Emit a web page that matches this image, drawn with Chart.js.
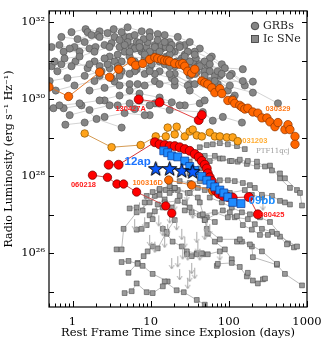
<!DOCTYPE html>
<html><head><meta charset="utf-8">
<script src="https://cdn.jsdelivr.net/npm/chart.js@4/dist/chart.umd.min.js"></script>
<style>html,body{margin:0;padding:0;background:#fff}</style>
</head><body>
<canvas id="c" width="330" height="354" style="width:330px;height:354px;display:block"></canvas>
<script>
// ---------------- DATA ----------------
const xTickValues = [1, 10, 100, 1000];
const yTickValues = [1e26, 1e28, 1e30, 1e32];

// GRB radio light curves (gray circles): [days, erg/s/Hz]
const grbCurves = [
 [[0.54,2.3e31],[0.68,2.6e31],[0.92,2.1e31],[1.43,3.1e31],[2.22,4.2e31],[4.0,3.5e31],[7.2,2.3e31],[13,1.74e31],[23.5,9.7e30],[49,4.1e30]],
 [[0.59,9.7e30],[0.79,1.16e31],[1.23,1.3e31],[1.91,1.74e31],[2.98,2.3e31],[4.64,2.6e31],[7.2,2.9e31],[11.3,2.3e31],[17.5,2.1e31],[27.3,1.3e31],[42.5,7.3e30],[151,6.1e30]],
 [[0.64,5.4e30],[0.97,7.3e30],[1.65,8.2e30],[2.57,1.16e31],[3.78,1.46e31],[5.38,1.74e31],[8.38,1.46e31],[15.1,1.16e31],[31.6,6.5e30],[66,3.0e30],[203,2.9e30]],
 [[0.72,4.2e31],[1.16,3.7e31],[1.75,4.7e31],[2.81,5.3e31],[4.25,5.6e31],[6.24,4.7e31],[9.71,4.2e31],[15.1,3.1e31],[23.5,2.3e31],[36.6,1.46e31],[57,8.2e30],[103,4.1e30]],
 [[0.51,3.0e30],[0.86,3.6e30],[1.43,4.1e30],[2.35,5.4e30],[3.78,7.3e30],[6.24,9.7e30],[10.3,8.2e30],[17.5,7.3e30],[31.6,4.1e30],[203,1.5e30]],
 [[0.77,1.74e31],[1.23,1.74e31],[1.97,2.3e31],[3.16,2.9e31],[5.07,3.1e31],[8.13,3.7e31],[12.3,3.5e31],[18.6,2.6e31],[29.8,1.74e31],[49,9.7e30],[81,4.6e30]],
 [[1.56,5.6e31],[2.09,4.7e31],[3.45,4.2e31],[5.38,4.2e31],[9.15,3.1e31],[15.6,2.3e31],[27.3,1.46e31],[42.5,8.2e30],[72,5.4e30],[425,7.9e29]],
 [[0.61,1.7e30],[1.06,2.3e30],[1.91,3.0e30],[3.16,3.6e30],[5.38,4.6e30],[9.71,5.4e30],[17.5,4.6e30],[36.6,2.5e30],[112,1.06e30]],
 [[0.68,7.0e29],[1.23,7.9e29],[2.22,9.4e29],[4.0,1.26e30],[7.2,1.42e30],[13,1.12e30],[23.5,7.0e29]],
 [[0.57,5.9e29],[0.77,5.9e29],[1.30,7.0e29],[2.03,3.1e29],[4.25,1.85e29]],
 [[0.92,3.9e29],[1.65,5.3e29],[2.98,7.0e29],[5.38,7.9e29],[9.71,7.0e29],[17.5,5.3e29],[46.4,4.7e29],[62.3,2.8e29],[83.8,3.5e29],[147,2.5e29]],
 [[2.22,7.3e30],[3.45,9.7e30],[5.38,1.3e31],[8.38,1.16e31],[13,9.7e30],[20.3,7.3e30],[36.6,4.6e30],[57,3.0e30]],
 [[1.06,2.3e31],[1.65,2.1e31],[2.57,2.6e31],[4.0,2.3e31],[6.24,2.1e31],[9.71,1.74e31],[17.5,1.46e31],[31.6,9.7e30],[57,5.4e30],[119,1.26e30]],
 [[2.98,1.3e31],[4.64,1.74e31],[7.2,2.1e31],[11.3,2.6e31],[17.5,3.1e31],[23.5,2.6e31],[36.6,1.74e31],[57,1.16e31],[88.9,6.5e30],[151,3.0e30]],
 [[4.0,4.1e30],[6.24,5.4e30],[9.71,6.5e30],[15.1,8.2e30],[25,9.7e30],[40.1,7.3e30],[66,4.1e30],[103,2.3e30]],
 [[5.38,1.7e30],[8.38,2.3e30],[13,2.5e30],[20.3,3.0e30],[31.6,1.7e30],[49,9.4e29]],
 [[0.81,2.2e29],[1.43,2.5e29],[2.57,3.5e29],[4.64,4.4e29],[8.38,3.9e29]],
 [[1.65,1.7e30],[2.57,2.0e30],[4.0,2.3e30],[6.81,2.5e30],[11.3,3.0e30],[20.3,2.3e30]],
 [[0.97,5.6e31],[1.47,6.7e31],[2.22,5.9e31],[3.36,6.7e31],[5.07,7.5e31],[7.67,5.9e31],[12.3,5.0e31]],
 [[9.71,5.6e31],[15.1,4.7e31],[22.2,4.2e31],[31.6,3.1e31],[42.5,2.1e31],[60.5,1.3e31],[81.3,8.2e30],[109,4.6e30],[160,2.3e30]],
 [[13,2.3e31],[18.6,1.74e31],[25,1.16e31],[35.6,8.2e30],[49,5.4e30],[72,2.5e30],[97,1.7e30]],
 [[1.91,9.7e30],[2.81,8.2e30],[4.25,9.7e30],[6.81,8.2e30],[11.3,4.6e30],[18.6,3.6e30],[29.8,2.3e30]],
 [[0.54,7.3e30],[0.72,8.2e30],[1.09,9.7e30],[1.56,6.5e30],[2.22,4.1e30],[3.45,2.9e30],[5.38,2.5e30]],
 [[7.2,9.4e29],[11.3,7.9e29],[18.6,8.4e29],[27.3,7.0e29],[42.5,7.9e29]],
 [[2.57,9.4e29],[3.78,7.0e29],[6.24,5.6e29],[9.71,3.9e29]],
 [[4.64,4.2e31],[6.62,3.1e31],[8.89,2.3e31],[11.9,1.74e31],[16.0,1.3e31],[21.5,9.7e30],[29.0,6.5e30],[38.9,5.1e30]],
 [[5.71,2.3e31],[7.67,1.74e31],[10.3,1.46e31],[13.8,2.1e31],[20.3,1.74e31],[27.3,2.6e31],[37.8,1.16e31],[53.8,7.3e30],[76.7,4.1e30]],
 [[2.98,6.5e30],[4.25,5.4e30],[6.62,6.1e30],[8.38,4.6e30],[13,5.4e30],[20.3,4.6e30],[31.6,2.5e30]]
];

// Type Ic SN radio light curves (gray squares)
const snCurves = [
 [[31.6,2.4e28],[42.5,5.7e28],[52.2,6.5e28],[62.3,6.8e28],[76.7,7.3e28],[97.1,6.8e28],[127,6.1e28],[160,5.1e28]],
 [[40.1,2.9e28],[49.2,3.4e28],[66.2,3.4e28],[83.8,2.9e28],[109,2.5e28],[138,2.7e28],[175,2.5e28],[229,2.4e28],[290,1.8e28],[356,1.42e28],[451,1.19e28],[522,8.9e27],[745,4.4e27],[813,3.7e27],[863,1.74e27]],
 [[31.6,1.19e28],[42.5,1.6e28],[57,2.5e28],[76.7,2.9e28],[103,2.5e28],[130,2.4e28],[170,2.1e28],[229,1.8e28],[336,1.9e28],[451,8.9e27],[605,5.0e27]],
 [[23.5,7.5e27],[31.6,6.7e27],[42.5,7.5e27],[57,8.4e27],[76.7,7.9e27],[97.1,7.9e27],[119,7.5e27],[151,6.7e27],[186,5.9e27],[215,5.0e27],[265,3.3e27],[356,3.1e27],[451,2.3e27],[522,2.1e27],[605,1.85e27]],
 [[20.3,5.0e27],[31.6,3.7e27],[40.1,5.0e27],[49.2,4.4e27],[72.3,4.2e27],[103,3.7e27],[160,4.4e27],[197,3.3e27],[265,2.8e27]],
 [[15.1,2.1e27],[22.2,2.3e27],[31.6,1.55e27],[46.4,1.03e27],[66.2,1.16e27],[97.1,8.6e26],[127,9.2e26],[151,5.4e26],[197,4.1e26],[250,3.0e26],[316,3.0e26],[412,3.2e26],[554,1.7e26]],
 [[27.3,1.3e27],[49.2,7.3e26],[83.8,1.3e27],[103,1.16e27],[119,8.6e26],[175,7.7e26],[215,5.7e26],[265,4.3e26],[356,3.6e26],[451,2.7e26],[745,1.5e26]],
 [[52.2,4.3e26],[76.7,2.3e26],[138,2.3e26],[186,1.7e26],[265,1.12e26],[412,5.3e25]],
 [[127,2.0e26],[147,2.0e26],[197,1.5e26],[203,7.9e25],[412,5.0e25],[522,2.9e25],[863,1.46e25]],
 [[29,9.4e25],[33.5,8.4e25],[38.9,9.4e25],[45.1,1.0e26],[53.8,9.4e25],[76.7,1.12e26]],
 [[70.2,4.7e25],[72.3,5.3e25],[109,5.6e25],[138,4.4e25],[170,2.5e25],[175,3.1e25],[203,1.95e25],[235,1.64e25],[273,2.1e25],[290,2.2e25]],
 [[4.64,9.2e24],[5.71,1.03e25],[6.62,1.64e25],[8.89,9.7e24],[10.6,9.2e24],[14.3,1.38e25]],
 [[15.1,1.85e25],[21.5,1.09e25],[26.5,9.7e24],[38.9,6.1e24],[49.2,4.6e24]],
 [[3.66,1.26e26],[4.25,1.26e26],[4.5,4.3e26],[6.62,1.16e27],[9.71,2.1e27],[13,3.3e27]],
 [[4.25,5.9e25],[5.2,6.3e25],[6.81,5.3e25],[7.89,4.7e25],[10.6,2.9e25],[16.5,1.85e25]],
 [[5.2,3.1e25],[6.81,5.6e25],[8.13,8.4e25],[9.15,1.12e26],[10.6,1.5e26],[12.3,1.34e26],[16.0,3.6e26],[20.3,7.3e26]],
 [[6.62,4.1e26],[7.67,4.3e26],[8.89,5.4e26],[10.6,7.7e26],[12.3,1.85e27],[15.1,2.5e27],[17.5,3.7e27],[20.3,5.0e27]],
 [[9.71,9.7e26],[11.3,1.23e27],[14.3,1.55e27],[18.6,1.55e27],[23.5,3.1e27],[27.3,2.1e27],[33.5,1.16e27],[42.5,9.7e26],[52.2,8.6e26],[66.2,6.5e26]],
 [[14.3,4.3e26],[16.0,3.2e26],[19.1,2.0e26],[25,1.5e26],[29,1.12e26],[38.9,1.0e26],[46.4,9.4e25]],
 [[5.38,1.46e27],[6.62,1.55e27],[7.89,1.3e27],[8.89,3.1e27],[10.6,3.9e27],[13,4.7e27],[17.5,5.6e27]],
 [[42.5,2.1e27],[49.2,7.3e26],[53.8,3.2e26],[66.2,2.0e26],[88.9,1.26e26],[109,7.0e25]],
 [[57,2.8e27],[81.3,2.1e27],[109,1.55e27],[147,1.16e27],[186,1.03e27],[250,8.6e26],[336,6.5e26],[571,1.8e26],[681,1.42e26]],
 [[8.38,2.1e27],[11.3,3.1e27],[13,4.4e27],[15.6,4.4e27],[18.6,4.4e27],[22.2,4.4e27],[29.8,3.7e27],[40.1,2.8e27]]
];

// SN upper limits (downward arrows)
const snUpperLimits = [[6.24,7.7e26],[7.2,2.1e27],[9.71,3.0e26],[12.7,9.7e26],[14.3,5.4e26],[18.6,7.5e25],[23.5,3.9e25],[29.8,2.3e25],[31.6,3.5e25],[36.6,4.2e25],[25.7,1.34e26],[17.5,1.16e27],[20.3,2.5e27],[21.5,7.7e26],[25,4.3e26],[29.8,1.26e26],[38.9,3.6e26],[42.5,1.26e26],[52.2,6.5e26],[29,4.4e27],[34.5,1.55e27],[40.1,2.0e26],[76.7,1.26e26],[273,2.5e27],[49.2,4.3e26],[11.3,2.0e26],[8.38,8.6e26],[15.1,2.7e26],[22.2,8.4e25],[33.5,5.6e25],[57,5.7e26],[16.5,5.7e26],[27.3,2.7e26]];

const grb030329 = [[0.5,2.1e30],[0.89,1.19e30],[2.22,5.1e30],[2.98,3.8e30],[3.89,6.1e30],[5.71,9.7e30],[6.42,7.7e30],[7.89,8.6e30],[9.71,1.09e31],[11.3,1.23e31],[12.3,1.16e31],[13.8,1.09e31],[15.1,1.03e31],[16.5,1.03e31],[17.5,9.7e30],[20.3,8.6e30],[23.5,8.2e30],[25.7,8.6e30],[27.3,7.3e30],[29.8,5.4e30],[33.5,4.8e30],[36.6,6.1e30],[45.1,3.0e30],[49.2,2.7e30],[53.8,2.5e30],[60.5,2.0e30],[66.2,1.5e30],[76.7,1.9e30],[81.3,1.42e30],[97.1,9.4e29],[112,9.4e29],[119,7.9e29],[138,7.0e29],[147,6.3e29],[160,5.6e29],[175,5.9e29],[203,4.7e29],[235,4.4e29],[265,3.3e29],[307,3.3e29],[336,2.6e29],[389,1.95e29],[425,2.5e29],[522,1.64e29],[571,2.2e29],[605,1.64e29],[702,1.09e29],[702,6.8e28]];
const grb031203 = [[1.43,1.3e29],[3.16,5.7e28],[7.44,6.5e28],[11.6,1.09e29],[15.6,1.09e29],[16.5,1.85e29],[20.3,1.23e29],[21.5,1.95e29],[27.3,1.09e29],[31.6,1.46e29],[34.5,1.64e29],[38.9,1.16e29],[45.1,1.09e29],[57,1.38e29],[66.2,1.09e29],[76.7,1.09e29],[94.2,1.03e29],[112,1.03e29],[130,8.2e28]];
const grb130427A = [[7.02,1.0e30],[13,8.4e29],[41.2,2.9e29],[45.1,3.9e29]];
const grb980425 = [[2.9,2.0e28],[3.89,2.0e28],[11.3,7.7e28],[13,6.8e28],[15.1,6.5e28],[17.5,6.1e28],[20.3,6.1e28],[23.5,5.7e28],[27.3,5.1e28],[31.6,4.6e28],[36.6,3.8e28],[41.2,3.2e28],[45.1,2.5e28],[49.2,2.0e28],[52.2,1.6e28],[53.8,1.19e28],[57,9.4e27],[60.5,7.5e27],[64.3,5.6e27],[68.1,4.2e27],[74.5,3.5e27],[83.8,3.1e27],[97.1,2.9e27],[112,2.8e27],[180,2.9e27],[235,1.03e27]];
const grb060218 = [[1.8,1.07e28],[2.8,9.4e27],[3.7,6.3e27],[4.5,6.3e27],[6.6,3.9e27],[15.6,1.7e27],[18.6,1.1e27]];
const grb100316D = [[17,8e27],[33.5,5.9e27],[62,4.2e27]];
const sn2009bb = [[14.7,4.6e28],[16.5,4.1e28],[18.6,3.4e28],[22.2,3.2e28],[27.3,2.5e28],[31.6,1.8e28],[36.6,1.42e28],[45.1,1.0e28],[52.2,7.9e27],[58.8,6.3e27],[66.2,5.3e27],[76.7,4.4e27],[86.3,3.7e27],[97.1,2.9e27],[112,2.1e27],[143,1.95e27]];
const sn2012ap = [[11.6,1.6e28],[17.5,1.6e28],[25,1.42e28],[34.5,1.34e28]];

// text annotations anchored at data coordinates
const annotations = [
 {text:'130427A', t:5.54, L:5.6e29, color:'#ff1a1a', font:'bold 7.5px "Liberation Sans"'},
 {text:'030329', t:425, L:5.6e29, color:'#ff7a1a', font:'bold 7.5px "Liberation Sans"'},
 {text:'031203', t:215, L:8.2e28, color:'#ffad33', font:'bold 7.5px "Liberation Sans"'},
 {text:'PTF11qcj', t:366, L:4.6e28, color:'#9a9a9a', font:'7px "DejaVu Serif"'},
 {text:'12ap', t:6.81, L:2.4e28, color:'#1a73ff', font:'bold 11.5px "Liberation Sans"'},
 {text:'09bb', t:265, L:2.3e27, color:'#1a8cff', font:'bold 11.5px "Liberation Sans"'},
 {text:'980425', t:356, L:1.0e27, color:'#ff1a1a', font:'bold 7.5px "Liberation Sans"'},
 {text:'060218', t:1.38, L:5.9e27, color:'#ff1a1a', font:'bold 7.5px "Liberation Sans"'},
 {text:'100316D', t:9.15, L:6.7e27, color:'#ff7a1a', font:'bold 7.5px "Liberation Sans"'}
];

// ---------------- RENDERING ----------------
const SERIF = '"DejaVu Serif", "Liberation Serif", serif';
const sup = {'-':'⁻','0':'⁰','1':'¹','2':'²','3':'³','4':'⁴','5':'⁵','6':'⁶','7':'⁷','8':'⁸','9':'⁹'};
function pow10Label(v){ const e = Math.round(Math.log10(v)); return '10' + String(e).split('').map(c=>sup[c]).join(''); }
function pts(arr){ return arr.map(p=>({x:p[0], y:p[1]})); }

function makeStar(){
  const c=document.createElement('canvas'); c.width=17; c.height=17;
  const g=c.getContext('2d'); g.beginPath();
  for(let i=0;i<10;i++){ const r = i%2 ? 3.1 : 7.6; const a = -Math.PI/2 + i*Math.PI/5; g.lineTo(8.5+r*Math.cos(a), 9.2+r*Math.sin(a)); }
  g.closePath(); g.fillStyle='#0a5aff'; g.fill(); g.strokeStyle='#000'; g.lineWidth=1; g.stroke();
  return c;
}
function makeArrow(){
  const c=document.createElement('canvas'); c.width=7; c.height=24;
  const g=c.getContext('2d'); g.strokeStyle='#aaaaaa'; g.lineWidth=1;
  g.beginPath(); g.moveTo(3.5,12); g.lineTo(3.5,23); g.moveTo(1,19); g.lineTo(3.5,23); g.lineTo(6,19); g.stroke();
  return c;
}
const starImg = makeStar();
const arrowImg = makeArrow();

const datasets = [];
function addColored(label, data, o){
  datasets.push(Object.assign({label, data:pts(data), showLine:true, borderWidth:0.9, pointBorderWidth:0.7}, o));
}
addColored('SN 2012ap', sn2012ap, {showLine:false, pointStyle:starImg, pointRadius:6, order:1});
addColored('SN 2009bb', sn2009bb, {borderColor:'#1a7aff', pointStyle:'rect', pointRadius:5.6, pointBackgroundColor:'#1e8cff', pointBorderColor:'#0a3a99', order:2});
addColored('GRB 980425', grb980425, {borderColor:'#d02020', pointRadius:4.5, pointBackgroundColor:'#ff0000', pointBorderColor:'#6a0000', order:3});
addColored('GRB 100316D', grb100316D, {borderColor:'#e07a30', pointRadius:4.2, pointBackgroundColor:'#ff6a00', pointBorderColor:'#7a3000', order:4});
addColored('GRB 060218', grb060218, {borderColor:'#c84040', pointRadius:4.2, pointBackgroundColor:'#ff0000', pointBorderColor:'#6a0000', order:5});
addColored('GRB 130427A', grb130427A, {borderColor:'#e03030', pointRadius:4.5, pointBackgroundColor:'#ff0000', pointBorderColor:'#6a0000', order:6});
addColored('GRB 030329', grb030329, {borderColor:'#e07020', pointRadius:4.2, pointBackgroundColor:'#ff6600', pointBorderColor:'#8a3300', order:7});
addColored('GRB 031203', grb031203, {borderColor:'#d09040', pointRadius:3.8, pointBackgroundColor:'#ffa31a', pointBorderColor:'#8a5500', order:8});

datasets.push({label:'SN limits', data:pts(snUpperLimits), showLine:false, pointStyle:arrowImg, pointRadius:3, order:30});
grbCurves.forEach((c,i)=>{
  datasets.push({label:'GRB '+i, data:pts(c), showLine:false, pointRadius:3.6, pointBackgroundColor:'#858585', pointBorderColor:'#505050', pointBorderWidth:0.6, order:40});
  datasets.push({label:'GRB line '+i, data:pts(c), showLine:true, pointRadius:0, borderColor:'#c8c8c8', borderWidth:0.8, order:60});
});
snCurves.forEach((c,i)=>{
  datasets.push({label:'SN '+i, data:pts(c), showLine:false, pointStyle:'rect', pointRadius:3.4, pointBackgroundColor:'#9a9a9a', pointBorderColor:'#4a4a4a', pointBorderWidth:0.6, order:41});
  datasets.push({label:'SN line '+i, data:pts(c), showLine:true, pointRadius:0, borderColor:'#ababab', borderWidth:0.8, order:61});
});

const framePlugin = {
  id:'frame',
  afterDatasetsDraw(chart){
    const {ctx, scales:{x,y}} = chart;
    ctx.save(); ctx.textAlign='center'; ctx.textBaseline='middle';
    annotations.forEach(a=>{ ctx.font=a.font; ctx.fillStyle=a.color; ctx.fillText(a.text, x.getPixelForValue(a.t), y.getPixelForValue(a.L)); });
    // legend
    ctx.fillStyle='#858585'; ctx.strokeStyle='#333'; ctx.lineWidth=0.8;
    ctx.beginPath(); ctx.arc(255,26,3.8,0,Math.PI*2); ctx.fill(); ctx.stroke();
    ctx.fillStyle='#8a8a8a'; ctx.fillRect(251.5,35.5,7,7); ctx.strokeRect(251.5,35.5,7,7);
    ctx.fillStyle='#222'; ctx.textAlign='left'; ctx.font='11px '+SERIF;
    ctx.fillText('GRBs', 263, 26.5); ctx.fillText('Ic SNe', 263, 39.5);
    ctx.restore();
  },
  afterDraw(chart){
    const {ctx, chartArea:a, scales:{x,y}} = chart;
    ctx.save(); ctx.strokeStyle='#000'; ctx.lineWidth=1.2;
    ctx.strokeRect(a.left, a.top, a.right-a.left, a.bottom-a.top);
    ctx.lineWidth=1; ctx.beginPath();
    for(let d=-1; d<=3; d++){
      for(let k=1;k<=9;k++){
        const v=k*Math.pow(10,d); if(v<0.5||v>1000) continue;
        const px=Math.round(x.getPixelForValue(v))+0.5; const len = k===1?6:3.5;
        ctx.moveTo(px,a.bottom); ctx.lineTo(px,a.bottom-len);
        ctx.moveTo(px,a.top); ctx.lineTo(px,a.top+len);
      }
    }
    for(let e=25;e<=32;e++){
      const py=Math.round(y.getPixelForValue(Math.pow(10,e)))+0.5;
      ctx.moveTo(a.left,py); ctx.lineTo(a.left+5,py);
      ctx.moveTo(a.right,py); ctx.lineTo(a.right-5,py);
    }
    ctx.stroke(); ctx.restore();
  }
};

new Chart(document.getElementById('c'), {
  type:'scatter',
  data:{datasets},
  options:{
    responsive:false, animation:false, devicePixelRatio:1, events:[],
    layout:{padding:{left:0, right:23, top:3, bottom:0}},
    plugins:{legend:{display:false}, tooltip:{enabled:false}},
    scales:{
      x:{type:'logarithmic', min:0.5, max:1000,
         grid:{display:false, drawTicks:false}, border:{display:false},
         afterBuildTicks: ax=>{ ax.ticks = xTickValues.map(v=>({value:v})); },
         afterFit: ax=>{ ax.height = 47; },
         ticks:{color:'#000', font:{family:SERIF, size:11.5}, padding:8, maxRotation:0, autoSkip:false, callback:v=>String(v)},
         title:{display:true, text:'Rest Frame Time since Explosion (days)', color:'#000', font:{family:SERIF, size:11.5}, padding:{top:0,bottom:14}}
      },
      y:{type:'logarithmic', min:4e24, max:2e32,
         grid:{display:false, drawTicks:false}, border:{display:false},
         afterBuildTicks: ax=>{ ax.ticks = yTickValues.map(v=>({value:v})); },
         afterFit: ax=>{ ax.width = 49; },
         ticks:{color:'#000', font:{family:SERIF, size:11.5}, padding:4, autoSkip:false, callback:v=>pow10Label(v)},
         title:{display:true, text:'Radio Luminosity (erg s⁻¹ Hz⁻¹)', color:'#000', font:{family:SERIF, size:11}, padding:{top:3,bottom:0}}
      }
    }
  },
  plugins:[framePlugin]
});
</script>
</body></html>
